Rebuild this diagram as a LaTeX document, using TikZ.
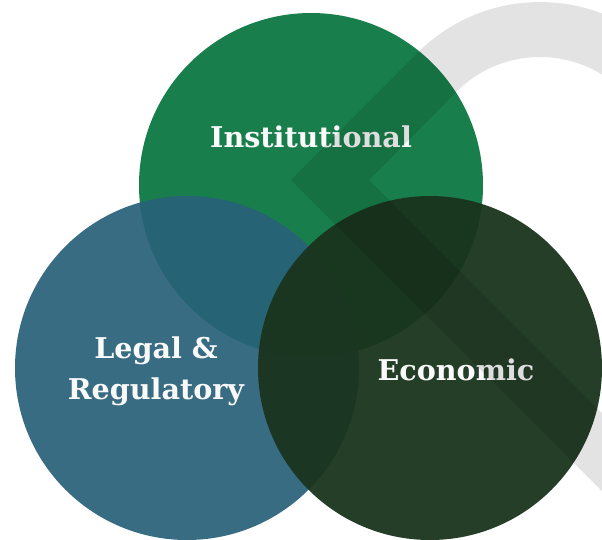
\documentclass[tikz,border=0pt]{standalone}
\usepackage{fontspec}
\newfontfamily\labelfont{DejaVu Serif}
\definecolor{instgreen}{RGB}{24,126,75}
\definecolor{legalblue}{RGB}{40,97,121}
\definecolor{econdark}{RGB}{26,52,29}
\definecolor{labelwhite}{RGB}{250,250,250}
\tikzset{
  venn/.style={circle, minimum size=344pt, inner sep=0pt, draw=none},
  lbl/.style={text=labelwhite, font=\labelfont\bfseries\fontsize{28.6}{41}\selectfont, align=center, inner sep=0pt},
  mark shape/.style={fill=black, fill opacity=0.11}
}
\begin{document}
\begin{tikzpicture}[x=1pt,y=1pt]
\useasboundingbox (0,0) rectangle (602,-539);
\clip (0,0) rectangle (602,-539);
\fill[white] (0,0) rectangle (602,-539);
\node[venn, fill=instgreen] (inst) at (311,-185) {};
\node[venn, fill=legalblue, fill opacity=0.93] (legal) at (187,-368) {};
\node[venn, fill=econdark, fill opacity=0.95] (econ) at (430,-368) {};
\node[lbl] (instlabel) at (311,-137) {Institutional};
\node[lbl] (legallabel) at (156,-371) {Legal \&\\Regulatory};
\node[lbl] (econlabel) at (456,-370) {Economic};
\fill[mark shape] (291,-180) -- (417.7,-52.7) arc[start angle=135,end angle=0,radius=173]
  -- (658,-175) arc[start angle=0,end angle=135,radius=118]
  -- (369,-180) -- (760,-571) -- (760,-649) -- cycle;
\end{tikzpicture}
\end{document}
